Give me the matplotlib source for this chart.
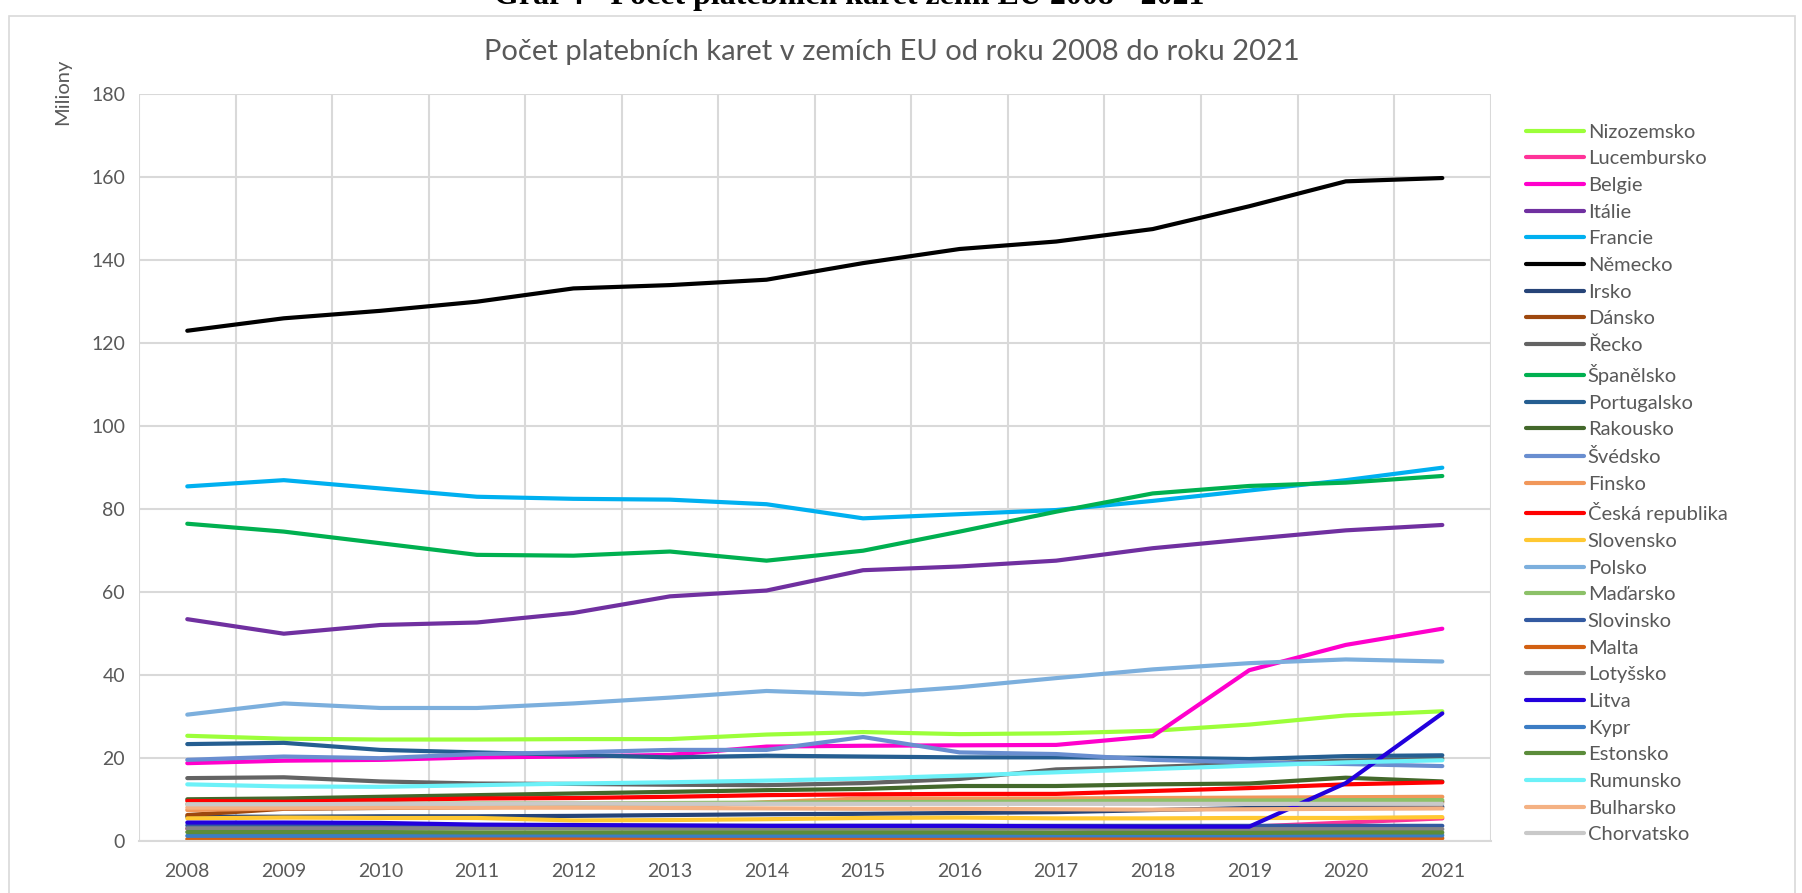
import numpy as np
import matplotlib
matplotlib.use("Agg")
import matplotlib.pyplot as plt
from matplotlib.patches import Rectangle

plt.rcParams['font.family'] = ['Lato', 'DejaVu Sans']

years = ['2008', '2009', '2010', '2011', '2012', '2013', '2014',
         '2015', '2016', '2017', '2018', '2019', '2020', '2021']

countries = ['Nizozemsko', 'Lucembursko', 'Belgie', 'Itálie', 'Francie', 'Německo',
             'Irsko', 'Dánsko', 'Řecko', 'Španělsko', 'Portugalsko', 'Rakousko',
             'Švédsko', 'Finsko', 'Česká republika', 'Slovensko', 'Polsko',
             'Maďarsko', 'Slovinsko', 'Malta', 'Lotyšsko', 'Litva', 'Kypr',
             'Estonsko', 'Rumunsko', 'Bulharsko', 'Chorvatsko']

nizozemsko = [25.4, 24.7, 24.5, 24.5, 24.6, 24.6, 25.7, 26.3, 25.8, 26.0, 26.6, 28.1, 30.3, 31.3]
lucembursko = [3.0, 3.1, 3.2, 3.2, 3.3, 3.3, 3.3, 3.3, 3.4, 3.4, 3.4, 3.5, 4.5, 5.5]
belgie = [18.8, 19.4, 19.6, 20.2, 20.4, 20.8, 22.8, 23.0, 23.1, 23.2, 25.3, 41.2, 47.3, 51.2]
italie = [53.5, 50.0, 52.1, 52.7, 55.0, 59.0, 60.4, 65.3, 66.2, 67.6, 70.6, 72.8, 74.9, 76.2]
francie = [85.5, 87.0, 85.0, 83.0, 82.5, 82.3, 81.2, 77.8, 78.8, 79.8, 82.0, 84.5, 87.0, 90.0]
nemecko = [123.0, 126.0, 127.8, 130.0, 133.2, 134.0, 135.3, 139.3, 142.7, 144.5, 147.5, 153.0, 159.0, 159.8]
irsko = [5.9, 5.9, 6.0, 6.0, 6.1, 6.3, 6.5, 6.6, 6.8, 7.0, 7.5, 8.0, 8.2, 8.3]
dansko = [6.3, 7.8, 8.0, 8.2, 8.4, 8.6, 9.2, 10.0, 9.9, 9.8, 9.7, 9.6, 9.5, 9.5]
recko = [15.2, 15.4, 14.4, 13.9, 13.8, 13.6, 13.5, 14.0, 15.0, 17.3, 17.9, 18.7, 19.4, 19.9]
spanelsko = [76.5, 74.6, 71.8, 69.0, 68.8, 69.8, 67.6, 70.0, 74.6, 79.4, 83.8, 85.6, 86.4, 88.0]
portugalsko = [23.4, 23.7, 22.0, 21.4, 20.8, 20.2, 20.6, 20.4, 20.2, 20.2, 20.1, 19.8, 20.5, 20.7]
rakousko = [10.1, 10.3, 10.7, 11.1, 11.5, 11.9, 12.3, 12.6, 13.3, 13.3, 13.7, 13.9, 15.3, 14.4]
svedsko = [19.6, 20.4, 20.0, 21.0, 21.4, 22.0, 22.0, 25.1, 21.4, 21.0, 19.6, 19.0, 18.6, 18.1]
finsko = [7.5, 7.9, 8.1, 8.2, 8.2, 8.4, 9.4, 10.3, 10.3, 10.3, 10.4, 10.5, 10.6, 10.7]
cesko = [9.7, 9.5, 9.9, 10.3, 10.4, 10.7, 11.1, 11.3, 11.4, 11.4, 12.1, 12.8, 13.7, 14.2]
slovensko = [5.5, 5.7, 5.6, 5.6, 5.0, 5.1, 5.3, 5.6, 5.7, 5.5, 5.5, 5.6, 5.6, 5.8]
polsko = [30.5, 33.2, 32.1, 32.1, 33.2, 34.6, 36.2, 35.4, 37.1, 39.3, 41.4, 42.9, 43.8, 43.3]
madarsko = [8.9, 8.9, 9.0, 9.1, 9.1, 9.2, 9.3, 9.4, 9.5, 9.6, 9.8, 9.8, 9.9, 9.9]
slovinsko = [3.8, 3.8, 3.7, 3.7, 3.7, 3.7, 3.7, 3.7, 3.7, 3.7, 3.7, 3.7, 3.7, 3.7]
malta = [0.5, 0.5, 0.6, 0.6, 0.6, 0.6, 0.6, 0.6, 0.6, 0.6, 0.7, 0.7, 0.7, 0.7]
lotyssko = [3.1, 3.1, 3.1, 3.1, 3.1, 3.0, 3.0, 3.0, 3.0, 3.0, 2.9, 2.9, 2.9, 2.9]
litva = [4.5, 4.5, 4.4, 4.0, 3.9, 3.8, 3.7, 3.7, 3.7, 3.6, 3.5, 3.5, 14.0, 30.8]
kypr = [1.3, 1.3, 1.3, 1.4, 1.4, 1.3, 1.3, 1.3, 1.3, 1.4, 1.4, 1.4, 1.4, 1.4]
estonsko = [2.2, 2.2, 2.2, 2.1, 2.1, 2.1, 2.1, 2.1, 2.1, 2.0, 2.0, 2.0, 2.1, 2.1]
rumunsko = [13.7, 13.2, 13.1, 13.5, 13.9, 14.2, 14.6, 15.1, 15.8, 16.6, 17.4, 18.2, 19.0, 19.5]
bulharsko = [8.1, 8.1, 8.1, 8.1, 8.1, 8.0, 7.9, 7.8, 7.8, 7.7, 7.6, 7.7, 7.8, 7.9]
chorvatsko = [8.9, 8.9, 9.0, 9.0, 9.1, 9.0, 9.0, 9.0, 9.0, 9.0, 9.0, 9.0, 9.0, 9.0]

series = [nizozemsko, lucembursko, belgie, italie, francie, nemecko, irsko, dansko,
          recko, spanelsko, portugalsko, rakousko, svedsko, finsko, cesko, slovensko,
          polsko, madarsko, slovinsko, malta, lotyssko, litva, kypr, estonsko,
          rumunsko, bulharsko, chorvatsko]

colors = ['#9CFF3A', '#FF3399', '#FF00CC', '#7030A0', '#00B0F0', '#000000',
          '#264478', '#9E480E', '#636363', '#00B050', '#255E91', '#43682B',
          '#698ED0', '#F1975A', '#FF0000', '#FFC832', '#7CAFDD', '#8CC168',
          '#335AA1', '#D26012', '#848484', '#2200DD', '#3C7DC4', '#5B8C3A',
          '#6CF1F8', '#F4B183', '#C9C9C9']

W, H = 1802, 893
fig = plt.figure(figsize=(W / 100, H / 100), dpi=100)

# chart border
fig.patches.append(Rectangle((9 / W, -0.05), (1795 - 9) / W, 1.05 - 16 / H,
                             transform=fig.transFigure, fill=False,
                             edgecolor='#D9D9D9', linewidth=1.2))

ax = fig.add_axes([139 / W, 1 - 841.2 / H, (1490.6 - 139) / W, (841.2 - 94.2) / H])
x = np.arange(len(years))
for name, vals, c in zip(countries, series, colors):
    ax.plot(x, vals, color=c, linewidth=3.0, label=name, solid_capstyle='round')

ax.set_xlim(-0.5, len(years) - 0.5)
ax.set_ylim(0, 180)
ax.set_yticks(np.arange(0, 181, 20))
ax.set_xticks(x)
ax.set_xticklabels(years)
ax.set_xticks(np.arange(-0.5, len(years), 1), minor=True)
ax.grid(True, which='minor', axis='x', color='#D9D9D9', linewidth=1.5)
ax.grid(True, which='major', axis='y', color='#D9D9D9', linewidth=1.5)
ax.grid(False, which='major', axis='x')
ax.set_axisbelow(True)
for s in ['top', 'right', 'left']:
    ax.spines[s].set_visible(False)
ax.spines['bottom'].set_color('#D9D9D9')
ax.spines['bottom'].set_linewidth(1.5)
ax.tick_params(axis='both', which='both', length=0, labelsize=14, colors='#595959')
ax.tick_params(axis='x', pad=16)
ax.tick_params(axis='y', pad=10)

fig.text(63 / W, 1 - 92 / H, 'Miliony', rotation=90, ha='center', va='center',
         fontsize=14.5, color='#595959')
fig.text(892 / W, 1 - 52 / H, 'Počet platebních karet v zemích EU od roku 2008 do roku 2021',
         ha='center', va='center', fontsize=21, color='#595959')
fig.text(849 / W, 1 - 4 / H, 'Graf 4 - Počet platebních karet zemí EU 2008 - 2021',
         ha='center', va='baseline', fontsize=23, fontweight='bold',
         family=['Liberation Serif', 'DejaVu Serif'], color='#000000')

leg = ax.legend(loc='upper left', bbox_to_anchor=(1526 / W, 1 - 123.5 / H),
                bbox_transform=fig.transFigure, frameon=False, fontsize=14.5,
                handlelength=2.86, handletextpad=0.2, labelspacing=0.476,
                borderpad=0, borderaxespad=0)
for t in leg.get_texts():
    t.set_color('#595959')

fig.savefig('out.png', dpi=100)
